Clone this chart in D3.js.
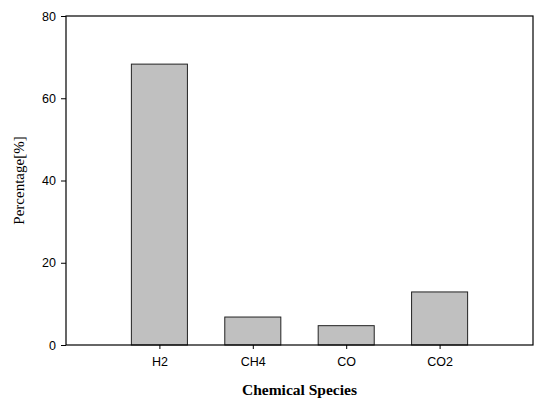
<!DOCTYPE html>
<html>
<head>
<meta charset="utf-8">
<script src="https://cdn.jsdelivr.net/npm/d3@7"></script>
<style>
  html, body { margin: 0; padding: 0; background: #fff; }
  svg { display: block; }
</style>
</head>
<body>
<svg id="chart" width="536" height="398"></svg>
<script>
// Gas composition by species
const categories = ["H2", "CH4", "CO", "CO2"];
const percentages = [68.3, 6.8, 4.7, 12.9];
const yTicks = [0, 20, 40, 60, 80];

const W = 536, H = 398;
const margin = { left: 66, top: 16, right: 3, bottom: 53 };
const plotW = W - margin.left - margin.right;
const plotH = H - margin.top - margin.bottom;

const svg = d3.select("#chart");
const g = svg.append("g").attr("transform", `translate(${margin.left},${margin.top})`);

// Categories sit at positions 1..n on a 0..n+1 axis
const x = d3.scaleLinear().domain([0, categories.length + 1]).range([0, plotW]);
const y = d3.scaleLinear().domain([0, 80]).range([plotH, 0]);
const step = x(1) - x(0);
const barW = step * 0.6;

// Bars
g.selectAll("rect.bar")
  .data(percentages)
  .enter().append("rect")
  .attr("class", "bar")
  .attr("x", (d, i) => x(i + 1) - barW / 2)
  .attr("y", d => y(d))
  .attr("width", barW)
  .attr("height", d => y(0) - y(d))
  .attr("fill", "#c0c0c0")
  .attr("stroke", "#222")
  .attr("stroke-width", 1);

// Frame
g.append("rect")
  .attr("x", 0).attr("y", 0)
  .attr("width", plotW).attr("height", plotH)
  .attr("fill", "none")
  .attr("stroke", "#000")
  .attr("stroke-width", 1.2);

// Y axis
const yAxis = g.append("g")
  .call(d3.axisLeft(y).tickValues(yTicks).tickSize(5).tickPadding(5).tickFormat(d3.format("d")));
yAxis.select(".domain").remove();
yAxis.selectAll("text")
  .attr("font-family", "Arial, 'Liberation Sans', sans-serif")
  .attr("font-size", 12.5)
  .attr("fill", "#000");
yAxis.selectAll("line").attr("stroke", "#000");

// X axis
const xAxis = g.append("g")
  .attr("transform", `translate(0,${plotH})`)
  .call(d3.axisBottom(x)
    .tickValues(categories.map((c, i) => i + 1))
    .tickFormat((d) => categories[d - 1])
    .tickSize(4).tickPadding(8));
xAxis.select(".domain").remove();
xAxis.selectAll("text")
  .attr("font-family", "Arial, 'Liberation Sans', sans-serif")
  .attr("font-size", 12.5)
  .attr("fill", "#000");
xAxis.selectAll("line").attr("stroke", "#000");

// Axis titles
svg.append("text")
  .attr("x", margin.left + plotW / 2)
  .attr("y", 395)
  .attr("text-anchor", "middle")
  .attr("font-family", "'Liberation Serif', 'Times New Roman', serif")
  .attr("font-weight", "bold")
  .attr("font-size", 15.5)
  .text("Chemical Species");

svg.append("text")
  .attr("transform", `translate(24,${margin.top + plotH / 2}) rotate(-90)`)
  .attr("text-anchor", "middle")
  .attr("font-family", "'Liberation Serif', 'Times New Roman', serif")
  .attr("font-size", 15)
  .text("Percentage[%]");
</script>
</body>
</html>
